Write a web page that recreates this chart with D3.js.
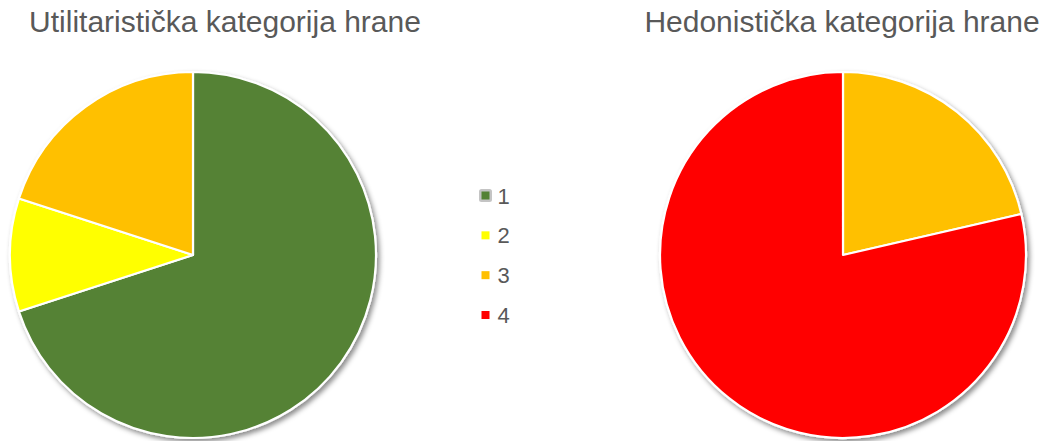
<!DOCTYPE html>
<html>
<head>
<meta charset="utf-8">
<script src="https://cdn.jsdelivr.net/npm/d3@7"></script>
<style>
  body { margin: 0; background: #ffffff; }
  svg { display: block; font-family: "Liberation Sans", Arial, sans-serif; }
</style>
</head>
<body>
<div id="chart"></div>
<script>
// categories and values (share of answers, %)
var categories = ["1", "2", "3", "4"];
var colors = ["#548235", "#ffff00", "#ffc000", "#ff0000"];
var utilValues = [70, 10, 20, 0];
var hedoValues = [0, 0, 21.4, 78.6];
var titles = ["Utilitaristička kategorija hrane", "Hedonistička kategorija hrane"];

var width = 1046, height = 441;
var radius = 183;

var svg = d3.select('#chart').append('svg')
    .attr('width', width)
    .attr('height', height);

// soft shadow like the office chart
var defs = svg.append('defs');
var f = defs.append('filter').attr('id', 'shadow')
    .attr('x', '-10%').attr('y', '-10%').attr('width', '125%').attr('height', '125%');
f.append('feDropShadow')
    .attr('dx', 2.5).attr('dy', 3)
    .attr('stdDeviation', 2.5)
    .attr('flood-color', '#000')
    .attr('flood-opacity', 0.45);

var color = d3.scaleOrdinal().domain(categories).range(colors);

var pie = d3.pie().sort(null).value(function(d) { return d.value; });
var arc = d3.arc().innerRadius(0).outerRadius(radius);

// pie centres and title centres
var charts = [
  { values: utilValues, cx: 193, cy: 255, tx: 225, title: titles[0] },
  { values: hedoValues, cx: 843, cy: 255, tx: 842, title: titles[1] }
];

charts.forEach(function(c) {
  var data = categories.map(function(k, i) { return { key: k, value: c.values[i] }; })
      .filter(function(d) { return d.value > 0; });

  var g = svg.append('g')
      .attr('transform', 'translate(' + c.cx + ',' + c.cy + ')')
      .attr('filter', 'url(#shadow)');

  g.selectAll('path')
    .data(pie(data))
    .enter()
    .append('path')
      .attr('d', arc)
      .attr('fill', function(d) { return color(d.data.key); })
      .attr('stroke', '#ffffff')
      .attr('stroke-width', 2.2)
      .attr('stroke-linejoin', 'round');

  svg.append('text')
      .attr('x', c.tx)
      .attr('y', 32)
      .attr('text-anchor', 'middle')
      .attr('font-size', 30)
      .attr('fill', '#595959')
      .text(c.title);
});

// legend in the middle
var ly = d3.scalePoint().domain(categories).range([195.5, 315]);

var leg = svg.append('g').selectAll('g')
    .data(categories)
    .enter()
    .append('g')
      .attr('transform', function(d) { return 'translate(485.5,' + ly(d) + ')'; });

// first entry shows the selection box
leg.filter(function(d, i) { return i === 0; })
  .append('rect')
    .attr('x', -6.5).attr('y', -6.5)
    .attr('width', 13).attr('height', 13)
    .attr('rx', 2.5)
    .attr('fill', '#c4c4c4');

leg.append('rect')
    .attr('x', -4).attr('y', -4)
    .attr('width', 8).attr('height', 8)
    .attr('fill', function(d) { return color(d); });

leg.append('text')
    .attr('x', 12)
    .attr('y', 8)
    .attr('font-size', 22)
    .attr('fill', '#595959')
    .text(function(d) { return d; });
</script>
</body>
</html>
